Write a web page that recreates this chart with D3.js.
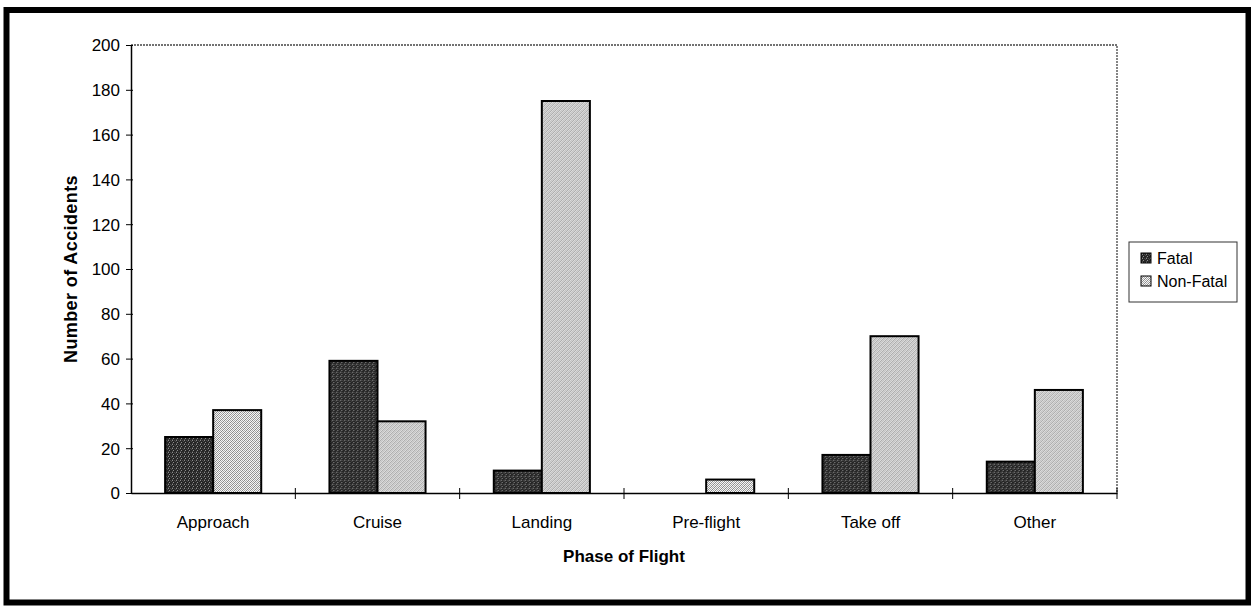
<!DOCTYPE html>
<html>
<head>
<meta charset="utf-8">
<script src="https://cdn.jsdelivr.net/npm/d3@7"></script>
<style>
  html, body { margin: 0; padding: 0; background: #fff; }
  svg { display: block; font-family: "Liberation Sans", Arial, Helvetica, sans-serif; }
</style>
</head>
<body>
<svg id="chart" width="1251" height="607"></svg>
<script>
// Accidents by phase of flight
const categories = ["Approach", "Cruise", "Landing", "Pre-flight", "Take off", "Other"];
const seriesNames = ["Fatal", "Non-Fatal"];
const fatal = [25, 59, 10, 0, 17, 14];
const nonFatal = [37, 32, 175, 6, 70, 46];
const yTicks = [0, 20, 40, 60, 80, 100, 120, 140, 160, 180, 200];

const svg = d3.select("#chart");
const defs = svg.append("defs");

// Stippled halftone fills: 4x4 cells, each char picks a tone
function stipple(id, rows, tones) {
  const p = defs.append("pattern").attr("id", id)
    .attr("patternUnits", "userSpaceOnUse").attr("width", 4).attr("height", 4);
  rows.forEach((row, yy) => row.split("").forEach((ch, xx) => {
    p.append("rect").attr("x", xx).attr("y", yy).attr("width", 1).attr("height", 1)
      .attr("fill", tones[ch]).attr("shape-rendering", "crispEdges");
  }));
}
stipple("fatalFill", ["abac", "caaa", "aaba", "acaa"], { a: "#262626", b: "#8c8c8c", c: "#4a4a4a" });
stipple("nonFatalFill", ["wdwg", "dwgw", "wgwd", "gwdw"], { w: "#f6f6f6", g: "#a8a8a8", d: "#8a8a8a" });
const fills = ["url(#fatalFill)", "url(#nonFatalFill)"];

// Outer frame
svg.append("rect")
  .attr("x", 6.5).attr("y", 10).attr("width", 1242).attr("height", 592.5)
  .attr("fill", "none").attr("stroke", "#000").attr("stroke-width", 6);

const plot = { left: 131, right: 1117, top: 45, bottom: 493 };

const x = d3.scaleBand().domain(categories).range([plot.left, plot.right]).paddingInner(0).paddingOuter(0);
const xs = d3.scaleBand().domain(seriesNames).range([0, x.bandwidth()]).paddingInner(0).paddingOuter(0.71);
const y = d3.scaleLinear().domain([0, 200]).range([plot.bottom, plot.top]);

// Plot area edges (top & right dotted)
svg.append("path")
  .attr("d", `M${plot.left},${plot.top}H${plot.right}V${plot.bottom}`)
  .attr("fill", "none").attr("stroke", "#444").attr("stroke-width", 1.3)
  .attr("stroke-dasharray", "2,1");

// Bars
const data = categories.map((c, i) => ({ cat: c, values: [fatal[i], nonFatal[i]] }));
const groups = svg.append("g").selectAll("g").data(data).join("g")
  .attr("transform", d => `translate(${x(d.cat)},0)`);
groups.selectAll("rect")
  .data(d => d.values.map((v, j) => ({ v, j })).filter(e => e.v > 0))
  .join("rect")
  .attr("x", e => xs(seriesNames[e.j]))
  .attr("y", e => y(e.v))
  .attr("width", xs.bandwidth())
  .attr("height", e => y(0) - y(e.v))
  .attr("fill", e => fills[e.j])
  .attr("stroke", "#000").attr("stroke-width", 2);

// Y axis
const yAxis = svg.append("g").attr("transform", `translate(${plot.left},0)`)
  .call(d3.axisLeft(y).tickValues(yTicks).tickSize(5).tickSizeOuter(0));
yAxis.select(".domain").attr("stroke", "#000").attr("stroke-width", 1.5);
yAxis.selectAll(".tick line").attr("x2", 2).attr("x1", -5).attr("stroke", "#000");
yAxis.selectAll(".tick text").attr("font-size", 17).attr("fill", "#000").attr("dy", "0.35em").attr("x", -11);

// X axis line with category separators
const xAxis = svg.append("g").attr("transform", `translate(0,${plot.bottom})`)
  .call(d3.axisBottom(x).tickSize(0).tickPadding(23));
xAxis.select(".domain").attr("stroke", "#000").attr("stroke-width", 1.5);
xAxis.selectAll(".tick text").attr("font-size", 17).attr("fill", "#000");
const seps = categories.slice(1).map(c => x(c)).concat([plot.right]);
xAxis.selectAll("line.sep").data(seps).join("line").attr("class", "sep")
  .attr("x1", d => d).attr("x2", d => d).attr("y1", -5).attr("y2", 6)
  .attr("stroke", "#000").attr("stroke-width", 1);

// Axis titles
svg.append("text")
  .attr("transform", `translate(77,${(plot.top + plot.bottom) / 2}) rotate(-90)`)
  .attr("text-anchor", "middle").attr("font-size", 18).attr("font-weight", "bold")
  .attr("letter-spacing", 0.4)
  .text("Number of Accidents");
svg.append("text")
  .attr("x", (plot.left + plot.right) / 2).attr("y", 562)
  .attr("text-anchor", "middle").attr("font-size", 17).attr("font-weight", "bold")
  .text("Phase of Flight");

// Legend
const legend = svg.append("g").attr("transform", "translate(1129,242)");
legend.append("rect").attr("width", 108).attr("height", 60)
  .attr("fill", "#fff").attr("stroke", "#333").attr("stroke-width", 1);
seriesNames.forEach((name, i) => {
  const row = legend.append("g").attr("transform", `translate(12,${16 + i * 23})`);
  row.append("rect").attr("x", 0).attr("y", -5).attr("width", 10).attr("height", 10)
    .attr("fill", fills[i]).attr("stroke", "#000").attr("stroke-width", 1);
  row.append("text").attr("x", 16).attr("y", 0).attr("dy", "0.35em")
    .attr("font-size", 16).text(name);
});
</script>
</body>
</html>
